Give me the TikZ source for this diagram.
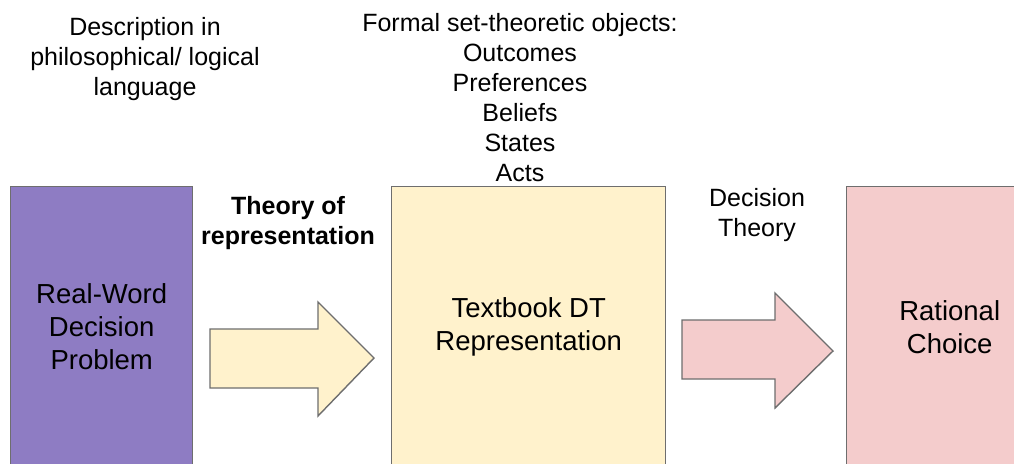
\documentclass[tikz,border=0pt]{standalone}
\usepackage{fontspec}
\setmainfont{Liberation Sans}
\definecolor{rwpurple}{HTML}{8E7CC3}
\definecolor{dtyellow}{HTML}{FFF2CC}
\definecolor{rcpink}{HTML}{F4CCCC}
\definecolor{edgegray}{HTML}{6E6E6E}
\tikzset{
	box/.style={draw=edgegray, line width=1.4pt, anchor=north west, align=center,
		font=\fontsize{27.5}{33}\selectfont},
	blockarrow/.style={draw=edgegray, line width=1.4pt, line join=miter},
	lbl/.style={align=center, inner sep=0pt, font=\fontsize{25}{30}\selectfont}
}
\begin{document}
\begin{tikzpicture}[x=1pt, y=-1pt]
		\path[use as bounding box, clip] (0,0) rectangle (1014,463);
		\fill[white] (0,0) rectangle (1014,463);
		% the three stages
		\node[box, fill=rwpurple, minimum width=182pt, minimum height=280pt] (rw) at (10,186) {Real-Word\\Decision\\Problem};
		\node[box, fill=dtyellow, minimum width=274pt, minimum height=280pt] (dt) at (391,186) {Textbook DT\\Representation};
		\node[box, fill=rcpink, minimum width=206pt, minimum height=280pt] (rc) at (846,186) {Rational\\Choice};
		% block arrows
		\draw[blockarrow, fill=dtyellow] (210,329) -- (318,329) -- (318,302) -- (374,358) -- (318,416) -- (318,388) -- (210,388) -- cycle;
		\draw[blockarrow, fill=rcpink] (682,320) -- (775,320) -- (775,293) -- (833,351) -- (775,408) -- (775,379) -- (682,379) -- cycle;
		% labels
		\node[lbl] (desc) at (145,59) {Description in\\philosophical/ logical\\language};
		\node[lbl] (formal) at (520,98) {Formal set-theoretic objects:\\Outcomes\\Preferences\\Beliefs\\States\\Acts};
		\node[lbl, font=\fontsize{25}{30}\selectfont\bfseries] (rep) at (288,223) {Theory of\\representation};
		\node[lbl] (dec) at (757,215) {Decision\\Theory};
	\end{tikzpicture}
\end{document}
